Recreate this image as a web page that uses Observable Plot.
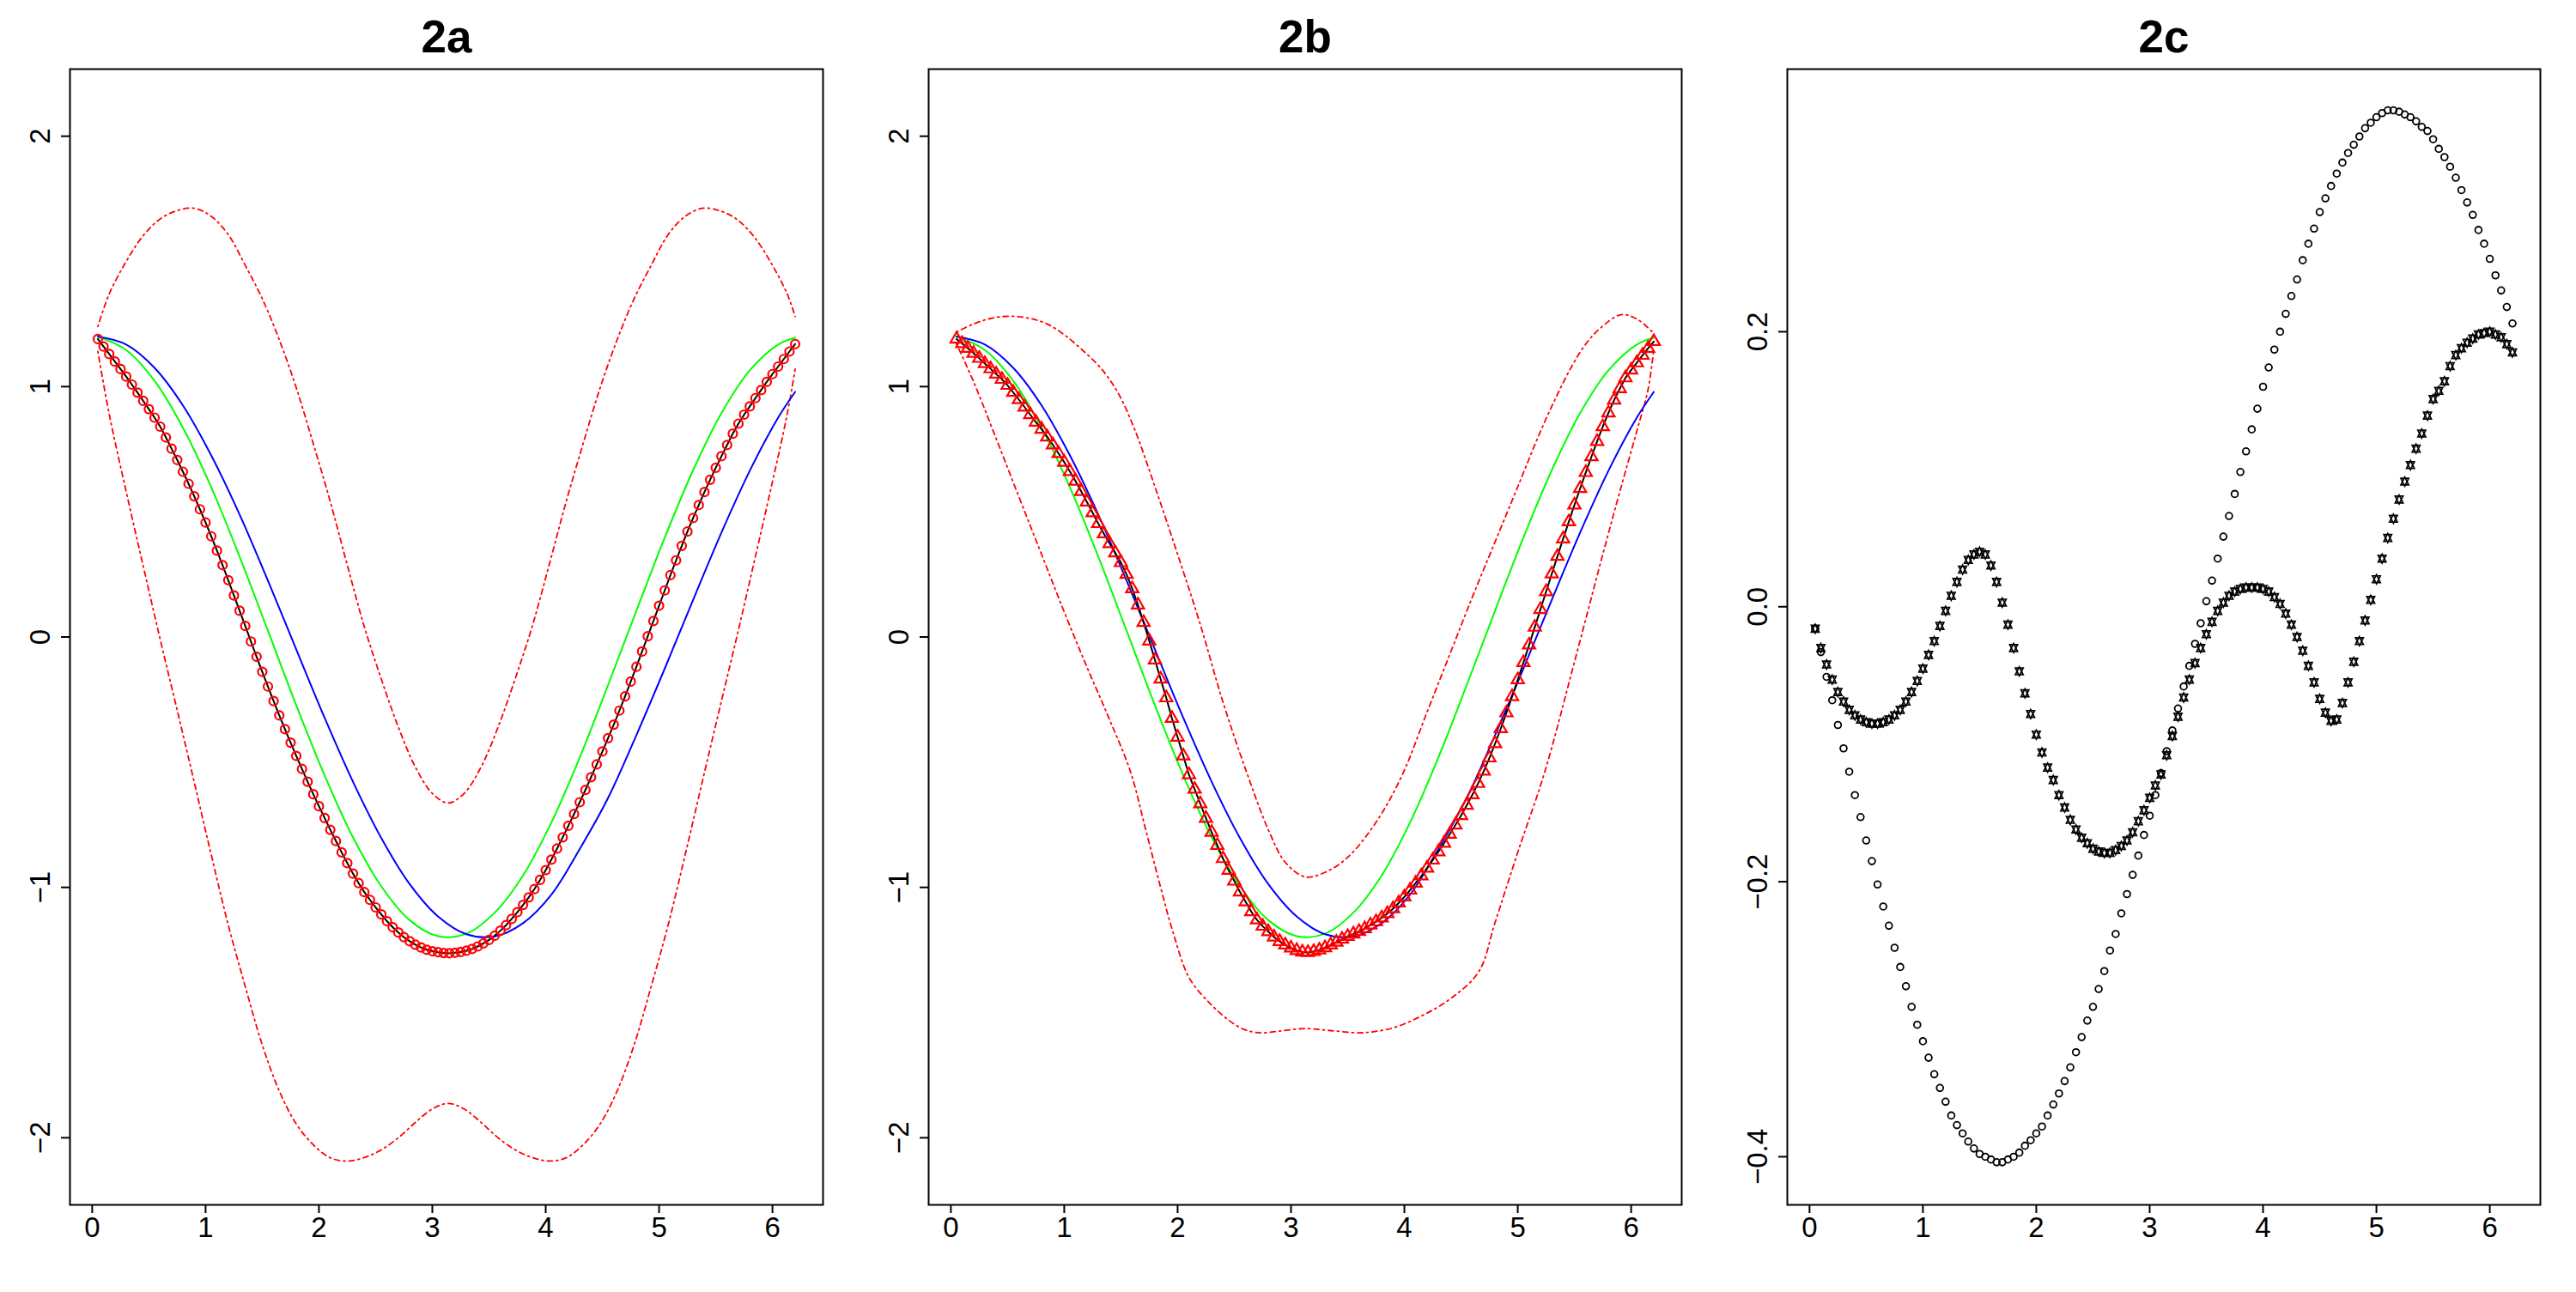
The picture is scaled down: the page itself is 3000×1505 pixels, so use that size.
<!DOCTYPE html>
<html>
<head>
<meta charset="utf-8">
<script src="https://cdn.jsdelivr.net/npm/d3@7"></script>
<script src="https://cdn.jsdelivr.net/npm/@observablehq/plot@0.6"></script>
<style>
  html, body { margin: 0; padding: 0; background: #fff; }
  #row { display: flex; flex-direction: row; width: 3000px; height: 1505px; }
  #row svg { display: block; flex: none; }
</style>
</head>
<body>
<div id="row"></div>
<script>
// ---------- data ----------
const titles = ["2a", "2b", "2c"];
const xTicks = [0, 1, 2, 3, 4, 5, 6];
const yTicksAB = [-2, -1, 0, 1, 2];
const yTicksC = [-0.4, -0.2, 0, 0.2];

const xGrid = [
  0.05,0.1,0.15,0.2,0.25,0.3,0.35,0.4,0.45,0.5,
  0.55,0.6,0.65,0.7,0.75,0.8,0.85,0.9,0.95,1,
  1.05,1.1,1.15,1.2,1.25,1.3,1.35,1.4,1.45,1.5,
  1.55,1.6,1.65,1.7,1.75,1.8,1.85,1.9,1.95,2,
  2.05,2.1,2.15,2.2,2.25,2.3,2.35,2.4,2.45,2.5,
  2.55,2.6,2.65,2.7,2.75,2.8,2.85,2.9,2.95,3,
  3.05,3.1,3.15,3.2,3.25,3.3,3.35,3.4,3.45,3.5,
  3.55,3.6,3.65,3.7,3.75,3.8,3.85,3.9,3.95,4,
  4.05,4.1,4.15,4.2,4.25,4.3,4.35,4.4,4.45,4.5,
  4.55,4.6,4.65,4.7,4.75,4.8,4.85,4.9,4.95,5,
  5.05,5.1,5.15,5.2,5.25,5.3,5.35,5.4,5.45,5.5,
  5.55,5.6,5.65,5.7,5.75,5.8,5.85,5.9,5.95,6,
  6.05,6.1,6.15,6.2
];

// panel 2a: estimate (black line + red circles)
const fit2a = [
  1.190,1.160,1.130,1.100,1.070,1.040,1.008,0.976,0.943,0.910,
  0.876,0.840,0.797,0.752,0.707,0.660,0.612,0.562,0.510,0.457,
  0.402,0.345,0.287,0.227,0.166,0.105,0.044,-0.018,-0.079,-0.139,
  -0.198,-0.256,-0.313,-0.368,-0.422,-0.475,-0.527,-0.578,-0.628,-0.676,
  -0.723,-0.770,-0.815,-0.860,-0.903,-0.945,-0.983,-1.019,-1.050,-1.080,
  -1.108,-1.135,-1.159,-1.180,-1.199,-1.215,-1.229,-1.240,-1.249,-1.255,
  -1.259,-1.262,-1.263,-1.261,-1.258,-1.253,-1.246,-1.236,-1.224,-1.210,
  -1.193,-1.173,-1.151,-1.126,-1.099,-1.070,-1.040,-1.007,-0.970,-0.931,
  -0.889,-0.845,-0.800,-0.754,-0.707,-0.660,-0.611,-0.560,-0.509,-0.457,
  -0.404,-0.350,-0.294,-0.237,-0.178,-0.119,-0.058,0.003,0.064,0.125,
  0.186,0.247,0.306,0.364,0.421,0.475,0.527,0.579,0.628,0.676,
  0.722,0.767,0.812,0.852,0.888,0.921,0.954,0.986,1.019,1.050,
  1.080,1.110,1.140,1.170
];

// panel 2b: estimate (black line + red triangles)
const fit2b = [
  1.190,1.172,1.153,1.133,1.113,1.092,1.071,1.050,1.029,1.005,
  0.977,0.948,0.918,0.888,0.858,0.830,0.799,0.767,0.733,0.698,
  0.661,0.622,0.581,0.539,0.496,0.453,0.412,0.373,0.336,0.297,
  0.250,0.193,0.128,0.058,-0.016,-0.092,-0.168,-0.243,-0.325,-0.400,
  -0.475,-0.550,-0.608,-0.666,-0.724,-0.780,-0.832,-0.885,-0.932,-0.975,
  -1.018,-1.058,-1.097,-1.130,-1.155,-1.177,-1.198,-1.216,-1.230,-1.242,
  -1.252,-1.258,-1.260,-1.256,-1.250,-1.241,-1.230,-1.219,-1.207,-1.196,
  -1.186,-1.176,-1.165,-1.150,-1.137,-1.122,-1.105,-1.085,-1.062,-1.038,
  -1.011,-0.983,-0.954,-0.923,-0.891,-0.858,-0.824,-0.788,-0.751,-0.713,
  -0.672,-0.630,-0.585,-0.536,-0.483,-0.426,-0.366,-0.303,-0.238,-0.171,
  -0.102,-0.032,0.039,0.110,0.181,0.252,0.322,0.392,0.460,0.527,
  0.593,0.657,0.720,0.781,0.840,0.895,0.946,0.992,1.035,1.066,
  1.095,1.125,1.153,1.180
];

// panel 2c: circles
const bias2a = [
  -0.016,-0.033,-0.051,-0.068,-0.086,-0.103,-0.120,-0.137,-0.153,-0.170,
  -0.185,-0.202,-0.218,-0.232,-0.248,-0.262,-0.276,-0.291,-0.304,-0.316,
  -0.328,-0.340,-0.350,-0.360,-0.370,-0.377,-0.383,-0.389,-0.394,-0.398,
  -0.400,-0.402,-0.404,-0.404,-0.402,-0.400,-0.397,-0.392,-0.388,-0.383,
  -0.378,-0.370,-0.362,-0.354,-0.345,-0.335,-0.324,-0.313,-0.301,-0.291,
  -0.278,-0.265,-0.250,-0.238,-0.223,-0.209,-0.195,-0.181,-0.166,-0.152,
  -0.137,-0.121,-0.105,-0.090,-0.074,-0.058,-0.043,-0.027,-0.012,0.004,
  0.019,0.035,0.051,0.066,0.082,0.098,0.113,0.129,0.144,0.160,
  0.174,0.187,0.200,0.213,0.226,0.238,0.252,0.264,0.275,0.287,
  0.297,0.306,0.315,0.323,0.330,0.336,0.342,0.348,0.352,0.356,
  0.359,0.361,0.361,0.360,0.358,0.356,0.353,0.349,0.346,0.340,
  0.333,0.327,0.320,0.312,0.303,0.294,0.285,0.274,0.264,0.253,
  0.241,0.230,0.218,0.206
];

// panel 2c: up-and-down triangles
const bias2b = [
  -0.016,-0.030,-0.042,-0.053,-0.062,-0.069,-0.075,-0.079,-0.082,-0.084,
  -0.085,-0.085,-0.084,-0.082,-0.079,-0.075,-0.069,-0.062,-0.054,-0.045,
  -0.035,-0.025,-0.014,-0.003,0.008,0.018,0.027,0.034,0.038,0.040,
  0.038,0.030,0.018,0.003,-0.013,-0.030,-0.047,-0.063,-0.078,-0.093,
  -0.106,-0.117,-0.126,-0.137,-0.146,-0.155,-0.162,-0.168,-0.172,-0.176,
  -0.178,-0.179,-0.179,-0.177,-0.174,-0.170,-0.164,-0.156,-0.148,-0.139,
  -0.130,-0.122,-0.108,-0.094,-0.080,-0.066,-0.053,-0.041,-0.030,-0.020,
  -0.011,-0.003,0.003,0.008,0.011,0.013,0.014,0.014,0.014,0.013,
  0.011,0.007,0.002,-0.005,-0.013,-0.022,-0.032,-0.043,-0.055,-0.067,
  -0.077,-0.083,-0.082,-0.070,-0.055,-0.040,-0.025,-0.010,0.005,0.020,
  0.035,0.050,0.064,0.078,0.091,0.103,0.115,0.126,0.139,0.151,
  0.157,0.164,0.175,0.183,0.188,0.192,0.195,0.198,0.199,0.200,
  0.198,0.196,0.191,0.185
];

// true (green) and warped (blue) curves
const curveX = [0.05,0.3,0.55,0.8,1.05,1.3,1.55,1.8,2.05,2.3,2.55,2.8,3.05,3.3,3.55,3.8,4.05,4.3,4.55,4.8,5.05,5.3,5.55,5.8,6.05,6.2];
const greenY = [1.199,1.146,1.023,0.836,0.598,0.321,0.025,-0.273,-0.553,-0.800,-0.996,-1.131,-1.195,-1.185,-1.101,-0.952,-0.741,-0.481,-0.192,0.105,0.397,0.666,0.894,1.065,1.168,1.196];
const blueY = [1.200,1.168,1.075,0.925,0.725,0.489,0.225,-0.050,-0.323,-0.578,-0.803,-0.987,-1.116,-1.187,-1.196,-1.143,-1.029,-0.847,-0.643,-0.392,-0.126,0.148,0.417,0.664,0.876,0.979];

// 2a confidence band (red dot-dash)
const band2aX = [0.05,0.15,0.3,0.45,0.6,0.75,0.9,1.05,1.2,1.35,1.5,1.65,1.8,1.95,2.1,2.25,2.4,2.55,2.7,2.85,3.0,3.14,3.28,3.43,3.58,3.73,3.88,4.03,4.18,4.33,4.48,4.63,4.78,4.93,5.08,5.23,5.38,5.53,5.68,5.83,5.98,6.13,6.2];
const band2aUpper = [1.24,1.37,1.50,1.603,1.67,1.703,1.712,1.68,1.607,1.484,1.351,1.187,0.995,0.772,0.54,0.287,0.041,-0.168,-0.36,-0.519,-0.625,-0.663,-0.625,-0.519,-0.36,-0.168,0.041,0.287,0.54,0.772,0.995,1.187,1.351,1.484,1.607,1.68,1.712,1.703,1.67,1.603,1.50,1.37,1.28];
const band2aLower = [1.14,0.89,0.58,0.283,-0.01,-0.293,-0.58,-0.87,-1.15,-1.396,-1.629,-1.813,-1.945,-2.028,-2.08,-2.093,-2.079,-2.048,-2.0,-1.939,-1.885,-1.863,-1.885,-1.939,-2.0,-2.048,-2.079,-2.093,-2.08,-2.028,-1.945,-1.813,-1.629,-1.396,-1.15,-0.87,-0.58,-0.293,-0.01,0.283,0.58,0.89,1.07];

// 2b confidence band
const band2bUpperX = [0.05,0.2,0.35,0.52,0.7,0.85,1.0,1.15,1.33,1.48,1.62,1.8,2.0,2.2,2.4,2.61,2.8,2.95,3.125,3.3,3.5,3.75,3.98,4.2,4.4,4.6,4.8,5.0,5.19,5.33,5.476,5.6,5.72,5.91,6.05,6.2];
const band2bUpper = [1.218,1.25,1.272,1.281,1.272,1.25,1.207,1.15,1.07,0.97,0.83,0.6,0.33,0.05,-0.26,-0.542,-0.77,-0.9,-0.958,-0.94,-0.88,-0.74,-0.552,-0.30,-0.07,0.16,0.38,0.60,0.81,0.95,1.081,1.17,1.23,1.287,1.27,1.213];
const band2bLowerX = [0.05,0.2,0.367,0.6,0.8,1.0,1.2,1.4,1.587,1.717,1.85,1.958,2.103,2.295,2.45,2.584,2.729,2.9,3.125,3.35,3.597,3.75,3.91,4.175,4.417,4.657,4.8,5.0,5.236,5.5,5.75,5.9,6.055,6.15,6.2];
const band2bLower = [1.17,1.02,0.83,0.56,0.33,0.10,-0.12,-0.33,-0.542,-0.767,-1.0,-1.177,-1.362,-1.468,-1.53,-1.567,-1.581,-1.574,-1.564,-1.572,-1.581,-1.575,-1.56,-1.508,-1.441,-1.336,-1.14,-0.86,-0.542,-0.1,0.33,0.58,0.83,0.99,1.15];

// ---------- helpers ----------
const pts = (xs, ys) => xs.map((x, i) => ({x, y: ys[i]}));
const fmtAB = d => (d < 0 ? "\u2212" + Math.abs(d) : String(d));
const fmtC = d => (d < 0 ? "\u2212" + Math.abs(d).toFixed(1) : d.toFixed(1));
const DASH = "2,4.5,6,4.5";

// R pch = 11: triangles up and down superimposed
const upDown = {
  draw(ctx, size) {
    const u = Math.sqrt(size / Math.PI);
    const r = 1.555 * u, yc = 1.166 * u, xc = 1.347 * u;
    ctx.moveTo(0, -r); ctx.lineTo(xc, yc); ctx.lineTo(-xc, yc); ctx.closePath();
    ctx.moveTo(0, r); ctx.lineTo(xc, -yc); ctx.lineTo(-xc, -yc); ctx.closePath();
  }
};

function panel(title, yDomain, yTicks, yFmt, marks) {
  return Plot.plot({
    width: 1000,
    height: 1505,
    marginTop: 80,
    marginBottom: 102,
    marginLeft: 81,
    marginRight: 42,
    x: {domain: [-0.196, 6.446]},
    y: {domain: yDomain},
    style: {fontFamily: "'Liberation Sans', Arial, sans-serif", fontSize: "33px", background: "#fff", overflow: "visible"},
    marks: [
      ...marks,
      Plot.frame({stroke: "black", strokeWidth: 2}),
      Plot.axisX({ticks: xTicks, tickSize: 10, tickPadding: 4, strokeWidth: 2, fontSize: 33, label: null, tickFormat: d => String(d)}),
      Plot.axisY({ticks: yTicks, tickSize: 10, strokeWidth: 2, label: null, tickFormat: () => ""}),
      Plot.text(yTicks, {y: d => d, text: yFmt, frameAnchor: "left", dx: -24, rotate: -90, textAnchor: "middle", lineAnchor: "bottom", fontSize: 33, fill: "black"}),
      Plot.text([title], {text: d => d, frameAnchor: "top", dy: -20, lineAnchor: "bottom", fontSize: 53, fontWeight: "bold", fill: "black"})
    ]
  });
}

const dAB = [-2.268, 2.268];

const pA = panel(titles[0], dAB, yTicksAB, fmtAB, [
  Plot.line(pts(band2aX, band2aUpper), {x: "x", y: "y", stroke: "#ff0000", strokeWidth: 1.8, strokeDasharray: DASH, curve: "catmull-rom"}),
  Plot.line(pts(band2aX, band2aLower), {x: "x", y: "y", stroke: "#ff0000", strokeWidth: 1.8, strokeDasharray: DASH, curve: "catmull-rom"}),
  Plot.line(pts(curveX, greenY), {x: "x", y: "y", stroke: "#00ff00", strokeWidth: 2, curve: "catmull-rom"}),
  Plot.line(pts(curveX, blueY), {x: "x", y: "y", stroke: "#0000ff", strokeWidth: 2, curve: "catmull-rom"}),
  Plot.line(pts(xGrid, fit2a), {x: "x", y: "y", stroke: "black", strokeWidth: 2}),
  Plot.dot(pts(xGrid, fit2a), {x: "x", y: "y", r: 5, stroke: "#ff0000", strokeWidth: 2.2, fill: "none"})
]);

const pB = panel(titles[1], dAB, yTicksAB, fmtAB, [
  Plot.line(pts(band2bUpperX, band2bUpper), {x: "x", y: "y", stroke: "#ff0000", strokeWidth: 1.8, strokeDasharray: DASH, curve: "catmull-rom"}),
  Plot.line(pts(band2bLowerX, band2bLower), {x: "x", y: "y", stroke: "#ff0000", strokeWidth: 1.8, strokeDasharray: DASH, curve: "catmull-rom"}),
  Plot.line(pts(curveX, greenY), {x: "x", y: "y", stroke: "#00ff00", strokeWidth: 2, curve: "catmull-rom"}),
  Plot.line(pts(curveX, blueY), {x: "x", y: "y", stroke: "#0000ff", strokeWidth: 2, curve: "catmull-rom"}),
  Plot.line(pts(xGrid, fit2b), {x: "x", y: "y", stroke: "black", strokeWidth: 2}),
  Plot.dot(pts(xGrid, fit2b), {x: "x", y: "y", r: 5.3, symbol: "triangle", stroke: "#ff0000", strokeWidth: 2.2, fill: "none"})
]);

const pC = panel(titles[2], [-0.435, 0.391], yTicksC, fmtC, [
  Plot.dot(pts(xGrid, bias2a), {x: "x", y: "y", r: 3.9, stroke: "black", strokeWidth: 1.8, fill: "none"}),
  Plot.dot(pts(xGrid, bias2b), {x: "x", y: "y", r: 3.4, symbol: upDown, stroke: "black", strokeWidth: 1.7, fill: "none"})
]);

const row = document.getElementById("row");
row.append(pA, pB, pC);
</script>
</body>
</html>
